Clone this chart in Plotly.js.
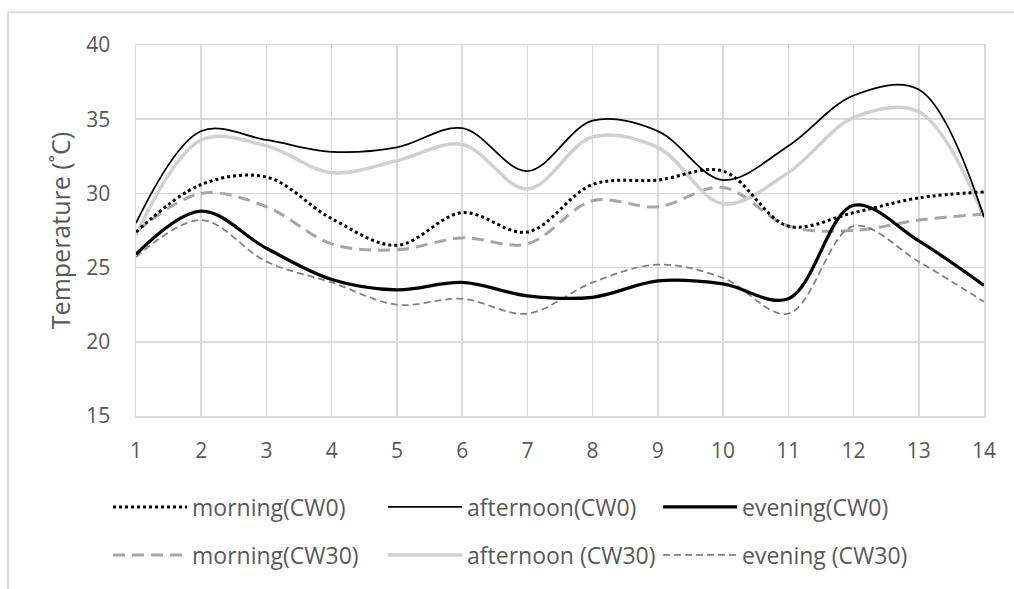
<!DOCTYPE html>
<html>
<head>
<meta charset="utf-8">
<script src="https://cdn.plot.ly/plotly-3.0.1.min.js"></script>
<style>
  html, body { margin: 0; padding: 0; background: #ffffff; }
  #chart { width: 1014px; height: 589px; }
</style>
</head>
<body>
<div id="chart"></div>
<script>
// ---- data ----
const days = [1, 2, 3, 4, 5, 6, 7, 8, 9, 10, 11, 12, 13, 14];
const xTickLabels = ["1","2","3","4","5","6","7","8","9","10","11","12","13","14"];
const yTickValues = [15, 20, 25, 30, 35, 40];

const morningCW0    = [27.4, 30.6, 31.1, 28.3, 26.5, 28.7, 27.4, 30.6, 30.9, 31.5, 27.8, 28.7, 29.7, 30.1];
const afternoonCW0  = [28.0, 34.2, 33.6, 32.8, 33.1, 34.4, 31.5, 34.9, 34.2, 30.9, 33.2, 36.6, 37.0, 28.4];
const eveningCW0    = [25.9, 28.8, 26.3, 24.2, 23.5, 24.0, 23.1, 23.0, 24.1, 23.9, 22.9, 29.2, 26.8, 23.8];
const morningCW30   = [27.4, 30.0, 29.1, 26.6, 26.2, 27.0, 26.6, 29.5, 29.1, 30.4, 27.8, 27.5, 28.2, 28.6];
const afternoonCW30 = [27.2, 33.6, 33.2, 31.4, 32.2, 33.3, 30.3, 33.8, 33.1, 29.3, 31.4, 35.1, 35.5, 28.4];
const eveningCW30   = [25.7, 28.2, 25.4, 24.0, 22.5, 22.9, 21.9, 24.0, 25.2, 24.3, 21.9, 27.8, 25.4, 22.7];

const seriesNames = ["morning(CW0)", "afternoon(CW0)", "evening(CW0)",
                     "morning(CW30)", "afternoon (CW30)", "evening (CW30)"];

const FONT = "Open Sans, DejaVu Sans, sans-serif";
const TXT = "#595959";
const GRID = "#d9d9d9";

function tr(y, name, color, width, dash, legend) {
  return {
    x: days, y: y, name: name, type: "scatter", mode: "lines",
    line: { color: color, width: width, dash: dash, shape: "spline", smoothing: 1 },
    legend: legend, hoverinfo: "skip"
  };
}

const data = [
  tr(morningCW30,   seriesNames[3], "#a6a6a6", 3,    "12px,7px", "legend2"),
  tr(afternoonCW30, seriesNames[4], "#d0d0d0", 3.5,  "solid",    "legend2"),
  tr(eveningCW30,   seriesNames[5], "#808080", 1.75, "7px,4px",  "legend2"),
  tr(morningCW0,    seriesNames[0], "#000000", 3,    "dot",      "legend"),
  tr(afternoonCW0,  seriesNames[1], "#000000", 1.75, "solid",    "legend"),
  tr(eveningCW0,    seriesNames[2], "#000000", 3.25, "solid",    "legend")
];

const legendCommon = {
  orientation: "h", xref: "container", yref: "container",
  xanchor: "left", yanchor: "middle",
  font: { family: FONT, size: 23, color: TXT },
  bgcolor: "rgba(0,0,0,0)", borderwidth: 0,
  entrywidth: 186, entrywidthmode: "pixels",
  itemwidth: 74, traceorder: "normal",
  itemclick: false, itemdoubleclick: false
};

const layout = {
  width: 1014, height: 589,
  paper_bgcolor: "#ffffff", plot_bgcolor: "#ffffff",
  margin: { l: 136, r: 30, t: 45, b: 173 },
  font: { family: FONT, color: TXT },
  showlegend: true,
  xaxis: {
    range: [1, 14], tickvals: days, ticktext: xTickLabels,
    showgrid: true, gridcolor: GRID, gridwidth: 1.5,
    showline: true, linecolor: GRID, linewidth: 1.5, mirror: true,
    zeroline: false, ticks: "", ticklabelstandoff: 15,
    tickfont: { family: FONT, size: 21, color: TXT }
  },
  yaxis: {
    range: [15, 40], tickvals: yTickValues,
    showgrid: true, gridcolor: GRID, gridwidth: 1.5,
    showline: true, linecolor: GRID, linewidth: 1.5, mirror: true,
    zeroline: false, ticks: "", ticklabelstandoff: 20,
    tickfont: { family: FONT, size: 21, color: TXT },
    title: { text: "Temperature (˚C)", font: { family: FONT, size: 25, color: TXT }, standoff: 8 }
  },
  legend: Object.assign({}, legendCommon, { x: 108 / 1014, y: 1 - 507 / 589 }),
  legend2: Object.assign({}, legendCommon, { x: 108 / 1014, y: 1 - 555 / 589 }),
  shapes: [
    { type: "line", xref: "paper", yref: "paper", x0: -0.151, x1: -0.151, y0: -0.5, y1: 1.088,
      line: { color: GRID, width: 2 }, layer: "below" },
    { type: "line", xref: "paper", yref: "paper", x0: -0.151, x1: 1.1, y0: 1.088, y1: 1.088,
      line: { color: GRID, width: 2 }, layer: "below" }
  ]
};

Plotly.newPlot("chart", data, layout, { staticPlot: true, displayModeBar: false });
</script>
</body>
</html>
